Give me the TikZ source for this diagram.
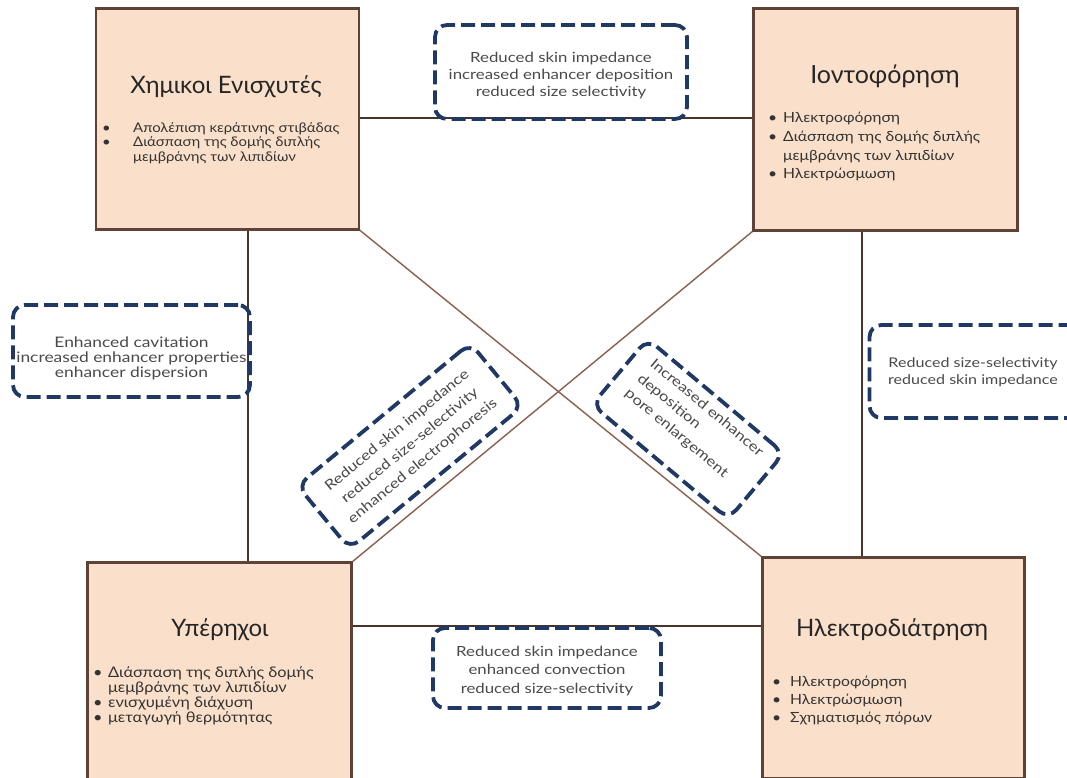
\documentclass[tikz,border=0pt]{standalone}
\usepackage{fontspec}
\setmainfont{Lato}
\newfontfamily\listfont[FakeStretch=1.12]{Lato}
\newfontfamily\notefont[FakeStretch=1.2]{Lato}
\definecolor{boxfill}{HTML}{FAE0CA}
\definecolor{boxline}{HTML}{5E4236}
\definecolor{linkdark}{HTML}{4A3328}
\definecolor{linkbrown}{HTML}{8C5E4C}
\definecolor{navy}{HTML}{1F3864}
\definecolor{notegrey}{HTML}{4A4A4A}
\definecolor{listgrey}{HTML}{333333}
% bullet item and continuation line of a list
\newcommand\bul[2][15]{\makebox[#1pt][l]{•}#2}
\newcommand\cnt[2][15]{\hspace*{#1pt}#2}
\begin{document}
\begin{tikzpicture}[x=1pt,y=-1pt,
  topic/.style={draw=boxline,line width=1.8pt,fill=boxfill,inner sep=0pt,
    minimum width=262pt,minimum height=220pt},
  title/.style={inner sep=0pt,text=black!85,font=\fontsize{24}{28}\selectfont},
  items/.style={inner sep=0pt,anchor=north west,align=left,text=listgrey,
    font=\listfont\fontsize{13.3}{14.5}\selectfont},
  link/.style={draw=linkdark,line width=1.4pt},
  diag/.style={draw=linkbrown,line width=1.4pt},
  note/.style={draw=navy,line width=3.8pt,dash pattern=on 14pt off 6pt,
    rounded corners=12pt,inner sep=0pt},
  notetext/.style={inner sep=0pt,align=center,text=notegrey,
    font=\notefont\fontsize{14}{17}\selectfont}]
\useasboundingbox (0,0) rectangle (1067,778);
\clip (0,0) rectangle (1067,778);
\fill[white] (0,0) rectangle (1067,778);

% the four methods
\node[topic] (ce) at (227.5,119) {};
\node[topic,minimum width=263pt,minimum height=221pt] (io) at (885.5,119.5) {};
\node[topic,minimum width=263pt,minimum height=218pt] (yp) at (219.5,672) {};
\node[topic,minimum width=261pt] (el) at (893.5,668) {};

% connectors between the methods
\draw[link] (ce.east |- 0,118) -- (io.west |- 0,118);
\draw[link] (ce.south -| 248,0) -- (yp.north -| 248,0);
\draw[link] (io.south -| 862,0) -- (el.north -| 862,0);
\draw[link] (yp.east |- 0,626) -- (el.west |- 0,626);
\draw[diag] (ce.south east) -- (el.north west);
\draw[diag] (io.south west) -- (yp.north east);

% redraw box outlines over the connector ends
\foreach \b in {ce,io,yp,el} \draw[boxline,line width=1.8pt] (\b.north west) rectangle (\b.south east);

% titles
\node[title] (ceT) at (226,87) {Χημικοι Ενισχυτές};
\node[title,font=\fontsize{25}{29}\selectfont] (ioT) at (885,76) {Ιοντοφόρηση};
\node[title] (ypT) at (220,630) {Υπέρηχοι};
\node[title] (elT) at (892,630) {Ηλεκτροδιάτρηση};

% bullet lists
\node[items] (ceL) at (102,122) {\bul[31]{Απολέπιση κεράτινης στιβάδας}\\
  \bul[31]{Διάσπαση της δομής διπλής}\\ \cnt[31]{μεμβράνης των λιπιδίων}};
\node[items,font=\listfont\fontsize{14}{18.7}\selectfont] (ioL) at (768,112)
  {\bul{Ηλεκτροφόρηση}\\ \bul{Διάσπαση της δομής διπλής}\\
   \cnt{μεμβράνης των λιπιδίων}\\ \bul{Ηλεκτρώσμωση}};
\node[items,font=\listfont\fontsize{14.6}{15}\selectfont] (ypL) at (93,666) {\bul{Διάσπαση της διπλής δομής}\\
  \cnt{μεμβράνης των λιπιδίων}\\ \bul{ενισχυμένη διάχυση}\\ \bul{μεταγωγή θερμότητας}};
\node[items,font=\listfont\fontsize{14}{18}\selectfont] (elL) at (772,676)
  {\bul[18]{Ηλεκτροφόρηση}\\ \bul[18]{Ηλεκτρώσμωση}\\ \bul[18]{Σχηματισμός πόρων}};

% effects of combining two methods: dashed frames
\node[note,minimum width=252pt,minimum height=94pt] (n1) at (561,72) {};
\node[note,minimum width=237pt,minimum height=92pt] (n2) at (131.5,351) {};
\node[note,minimum width=215pt,minimum height=93pt] (n3) at (977,371.5) {};
\node[note,minimum width=228pt,minimum height=80pt] (n4) at (547,668) {};
\node[note,rotate=39.5,minimum width=224pt,minimum height=82pt] (n5) at (410,446) {};
\node[note,rotate=-40,minimum width=178pt,minimum height=86pt] (n6) at (688,429) {};

% effects of combining two methods: texts
\node[notetext,yshift=-4pt] (n1t) at (n1.center)
  {Reduced skin impedance\\ increased enhancer deposition\\ reduced size selectivity};
\node[notetext,yshift=-7pt,font=\notefont\fontsize{14.5}{15}\selectfont] (n2t) at (n2.center)
  {Enhanced cavitation\\ increased enhancer properties\\ enhancer dispersion};
\node[notetext,xshift=-4pt,yshift=-1pt,font=\notefont\fontsize{13.4}{17}\selectfont] (n3t) at (n3.center)
  {Reduced size-selectivity\\ reduced skin impedance};
\node[notetext,yshift=-3pt,font=\notefont\fontsize{14}{18.5}\selectfont] (n4t) at (n4.center)
  {Reduced skin impedance\\ enhanced convection\\ reduced size-selectivity};
\node[notetext,rotate=39.5,font=\notefont\fontsize{14}{20}\selectfont] (n5t) at (n5.center)
  {Reduced skin impedance\\ reduced size-selectivity\\ enhanced electrophoresis};
\node[notetext,rotate=-40,align=left,font=\notefont\fontsize{14}{19.5}\selectfont] (n6t) at ([shift={(6pt,6pt)}]n6.center)
  {Increased enhancer\\ deposition\\ pore enlargement};
\end{tikzpicture}
\end{document}
